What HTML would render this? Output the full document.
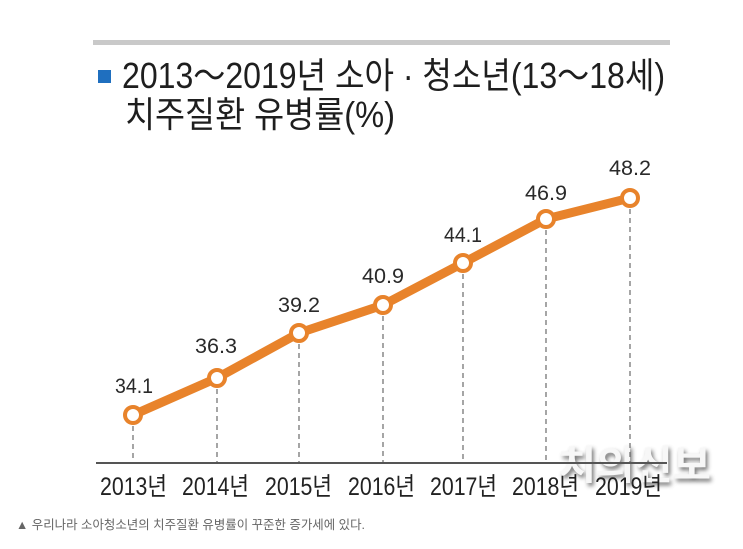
<!DOCTYPE html>
<html>
<head>
<meta charset="utf-8">
<style>
  html,body{margin:0;padding:0;background:#fff;}
  svg{display:block;}
  text{font-family:"Liberation Sans","Noto Sans CJK KR",sans-serif;}
</style>
</head>
<body>
<svg width="743" height="549" viewBox="0 0 743 549" xmlns="http://www.w3.org/2000/svg">
  <defs>
    <filter id="blur" x="-10%" y="-30%" width="120%" height="160%">
      <feGaussianBlur stdDeviation="2"/>
    </filter>
  </defs>
  <rect width="743" height="549" fill="#fff"/>
  <!-- top gray bar -->
  <rect x="93" y="40" width="577" height="5" fill="#c9c9c9"/>
  <!-- blue square -->
  <rect x="98" y="70" width="13" height="13" fill="#1f6fbf"/>
  <!-- title -->
  <text x="122" y="88" font-size="36" fill="#1e1e1e" textLength="543" lengthAdjust="spacingAndGlyphs">2013～2019년 소아 · 청소년(13～18세)</text>
  <text x="125" y="127" font-size="36" fill="#1e1e1e" textLength="270" lengthAdjust="spacingAndGlyphs">치주질환 유병률(%)</text>

  <!-- watermark -->
  <g font-size="40" font-weight="bold">
    <text x="560" y="482" fill="#555" opacity="0.8" filter="url(#blur)" textLength="153" lengthAdjust="spacingAndGlyphs">치의신보</text>
    <text x="558" y="479" fill="#f7f7f7" textLength="153" lengthAdjust="spacingAndGlyphs">치의신보</text>
  </g>

  <!-- dashed guide lines -->
  <g stroke="#6a6a6a" stroke-width="1.2" stroke-dasharray="5,4">
    <line x1="133" y1="426" x2="133" y2="462"/>
    <line x1="217" y1="389" x2="217" y2="462"/>
    <line x1="299" y1="344" x2="299" y2="462"/>
    <line x1="383" y1="316" x2="383" y2="462"/>
    <line x1="463" y1="274" x2="463" y2="462"/>
    <line x1="546" y1="230" x2="546" y2="462"/>
    <line x1="630" y1="209" x2="630" y2="462"/>
  </g>

  <!-- axis -->
  <rect x="96" y="462" width="571" height="2" fill="#555"/>

  <!-- series line -->
  <polyline points="133,415 217,378 299,333 383,305 463,263 546,219 630,198" fill="none" stroke="#e8832b" stroke-width="9" stroke-linejoin="round" stroke-linecap="round"/>
  <g fill="#fff" stroke="#e8832b" stroke-width="4">
    <circle cx="133" cy="415" r="8"/>
    <circle cx="217" cy="378" r="8"/>
    <circle cx="299" cy="333" r="8"/>
    <circle cx="383" cy="305" r="8"/>
    <circle cx="463" cy="263" r="8"/>
    <circle cx="546" cy="219" r="8"/>
    <circle cx="630" cy="198" r="8"/>
  </g>

  <!-- data labels -->
  <g font-size="21" fill="#2a2a2a" text-anchor="middle">
    <text x="134" y="393" textLength="38" lengthAdjust="spacingAndGlyphs">34.1</text>
    <text x="216" y="353" textLength="42" lengthAdjust="spacingAndGlyphs">36.3</text>
    <text x="299" y="312" textLength="42" lengthAdjust="spacingAndGlyphs">39.2</text>
    <text x="383" y="283" textLength="42" lengthAdjust="spacingAndGlyphs">40.9</text>
    <text x="463" y="242" textLength="38" lengthAdjust="spacingAndGlyphs">44.1</text>
    <text x="546" y="200" textLength="42" lengthAdjust="spacingAndGlyphs">46.9</text>
    <text x="630" y="175" textLength="42" lengthAdjust="spacingAndGlyphs">48.2</text>
  </g>

  <!-- year labels -->
  <g font-size="25" fill="#222">
    <text x="100" y="495" textLength="67" lengthAdjust="spacingAndGlyphs">2013년</text>
    <text x="182" y="495" textLength="67" lengthAdjust="spacingAndGlyphs">2014년</text>
    <text x="265" y="495" textLength="67" lengthAdjust="spacingAndGlyphs">2015년</text>
    <text x="348" y="495" textLength="67" lengthAdjust="spacingAndGlyphs">2016년</text>
    <text x="430" y="495" textLength="67" lengthAdjust="spacingAndGlyphs">2017년</text>
    <text x="512" y="495" textLength="67" lengthAdjust="spacingAndGlyphs">2018년</text>
    <text x="595" y="495" textLength="67" lengthAdjust="spacingAndGlyphs">2019년</text>
  </g>

  <!-- caption -->
  <text x="16" y="529" font-size="12.5" fill="#666" textLength="349" lengthAdjust="spacingAndGlyphs">▲ 우리나라 소아청소년의 치주질환 유병률이 꾸준한 증가세에 있다.</text>
</svg>
</body>
</html>
